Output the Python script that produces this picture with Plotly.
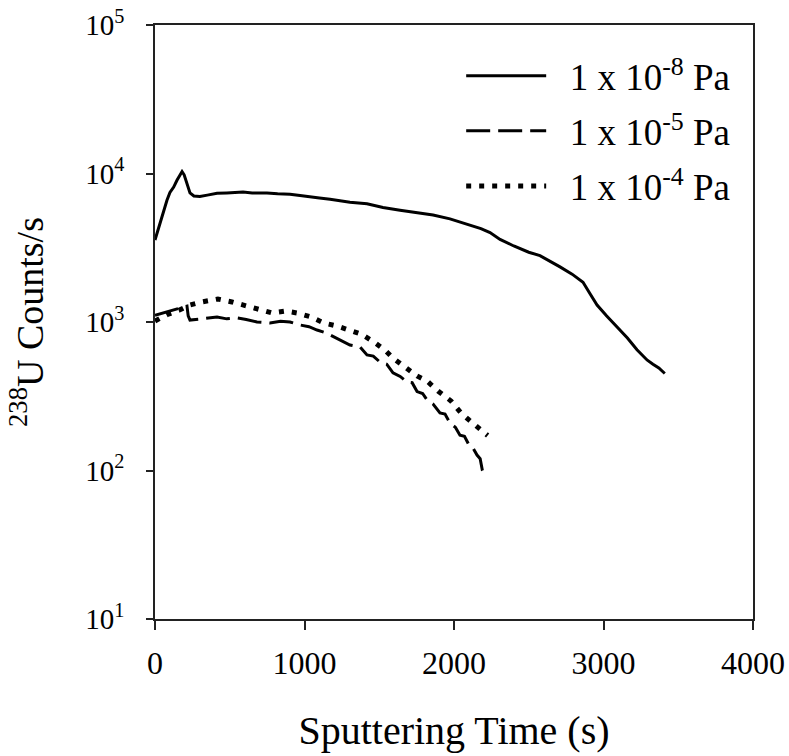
import plotly.graph_objects as go

# Series: 1 x 10^-8 Pa (solid)
t_8 = [0, 25, 54, 80, 100, 125, 147, 165, 181, 195, 214, 234, 260, 300, 350, 415, 480, 540, 589, 650,
       749, 820, 903, 970, 1037, 1100, 1171, 1240, 1304, 1418, 1525, 1639, 1753, 1860, 1973, 2087,
       2180, 2241, 2308, 2400, 2500, 2575, 2650, 2709, 2790, 2863, 2910, 2957, 3020, 3090, 3160,
       3224, 3291, 3331, 3370, 3410]
v_8 = [3565, 4300, 5500, 6600, 7450, 8100, 9000, 9700, 10300, 9800, 8500, 7400, 7050, 7000, 7150, 7350, 7400, 7450, 7500, 7400,
       7400, 7300, 7250, 7100, 7000, 6850, 6700, 6550, 6400, 6250, 5900, 5650, 5450, 5250, 4950, 4550,
       4250, 4000, 3600, 3250, 2950, 2800, 2550, 2350, 2100, 1850, 1550, 1300, 1100, 920, 780,
       650, 555, 520, 490, 450]

# Series: 1 x 10^-5 Pa (dashed)
t_5 = [0, 40, 80, 147, 214, 222, 234, 300, 360, 415, 480, 548, 610, 682, 769, 840, 903, 970,
       1030, 1084, 1150, 1191, 1250, 1304, 1371, 1418, 1460, 1505, 1550, 1592, 1640, 1686, 1720,
       1753, 1790, 1819, 1860, 1906, 1940, 1973, 2010, 2040, 2070, 2107, 2130, 2154, 2175, 2190, 2200]
v_5 = [1110, 1140, 1170, 1225, 1280, 1100, 1030, 1045, 1060, 1082, 1050, 1065, 1040, 1000, 985, 1010, 1000, 955,
       930, 883, 840, 800, 740, 700, 680, 600, 590, 537, 520, 455, 430, 394, 390,
       340, 330, 299, 280, 244, 240, 209, 195, 173, 170, 144, 140, 127, 120, 100, 95]

# Series: 1 x 10^-4 Pa (dotted)
t_4 = [0, 80, 160, 234, 314, 421, 515, 595, 682, 783, 876, 950, 1043, 1130, 1217, 1284, 1378,
       1465, 1538, 1592, 1686, 1753, 1819, 1893, 1980, 2047, 2100, 2154, 2194, 2225]
v_4 = [1016, 1120, 1200, 1303, 1365, 1428, 1365, 1303, 1225, 1150, 1185, 1150, 1082, 985, 940, 897, 830,
       733, 648, 572, 490, 433, 401, 343, 294, 244, 219, 196, 179, 172]

series_names = ["1 x 10<sup>-8</sup> Pa", "1 x 10<sup>-5</sup> Pa", "1 x 10<sup>-4</sup> Pa"]

x_ticks = [0, 1000, 2000, 3000, 4000]
y_ticks = [10, 100, 1000, 10000, 100000]
y_ticktext = ["10<sup>1</sup>", "10<sup>2</sup>", "10<sup>3</sup>", "10<sup>4</sup>", "10<sup>5</sup>"]

FONT = "Liberation Serif"
PAD = "\u00a0\u00a0"

fig = go.Figure()
fig.add_trace(go.Scatter(x=t_8, y=v_8, mode="lines", name=PAD + series_names[0], legendgroup="a",
                         line=dict(color="black", width=3)))
fig.add_trace(go.Scatter(x=t_5, y=v_5, mode="lines", name=PAD + series_names[1], legendgroup="b",
                         line=dict(color="black", width=3, dash="24px,8px")))
fig.add_trace(go.Scatter(x=t_4, y=v_4, mode="lines", name=PAD + series_names[2], legendgroup="c",
                         line=dict(color="black", width=5, dash="5px,8px")))

fig.update_layout(
    width=789, height=756,
    margin=dict(l=155, r=36, t=25, b=137),
    paper_bgcolor="white", plot_bgcolor="white",
    font=dict(family=FONT, size=30, color="black"),
    showlegend=True,
    legend=dict(x=0.512, y=0.966, xanchor="left", yanchor="top", traceorder="grouped",
                bgcolor="rgba(0,0,0,0)", font=dict(family=FONT, size=37, color="black"),
                itemwidth=80, tracegroupgap=4),
)
fig.update_xaxes(
    range=[0, 4000], tickvals=x_ticks, ticks="outside", ticklen=9, tickwidth=1.5,
    tickcolor="#222", showline=True, linecolor="#222", linewidth=1.5, mirror=True,
    showgrid=False, zeroline=False, tickfont=dict(family=FONT, size=32),
    ticklabelstandoff=6, automargin=False, ticklabeloverflow="allow",
    title=dict(text="Sputtering Time (s)", font=dict(family=FONT, size=40), standoff=36),
)
fig.update_yaxes(
    type="log", range=[1, 5], tickvals=y_ticks, ticktext=y_ticktext, ticks="outside",
    ticklen=7, tickwidth=1.5, tickcolor="#222", showline=True, linecolor="#222",
    linewidth=1.5, mirror=True, showgrid=False, zeroline=False,
    tickfont=dict(family=FONT, size=29), ticklabelstandoff=16, automargin=False,
    ticklabeloverflow="allow",
    title=dict(text="<sup>238</sup>U Counts/s", font=dict(family=FONT, size=38), standoff=30),
)

# remove the browser's default body margin so the figure fills the window exactly
fig.write_html("out.html", config={"displayModeBar": False},
               post_script="document.body.style.margin='0';document.body.style.overflow='hidden';")
